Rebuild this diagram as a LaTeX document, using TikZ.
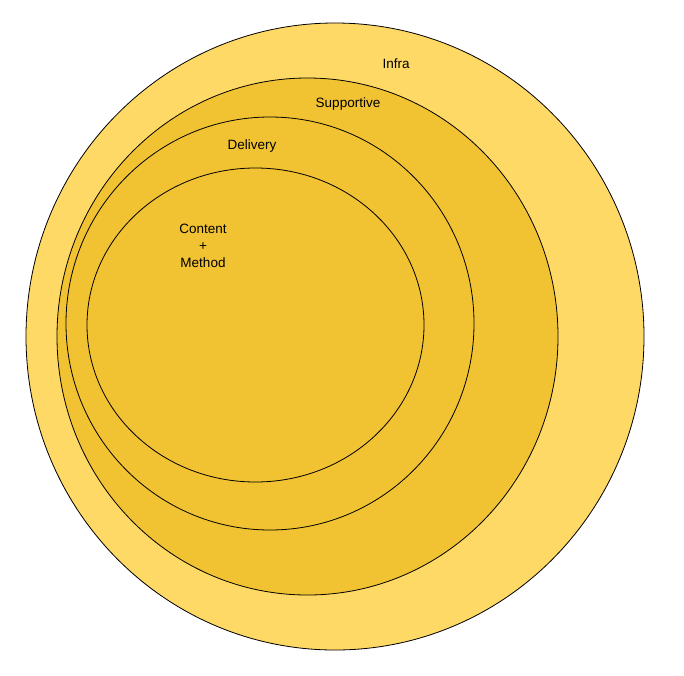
\documentclass[tikz,border=0pt]{standalone}
\usepackage{fontspec}
\setmainfont{Liberation Sans}
\begin{document}
\begin{tikzpicture}[x=1pt,y=-1pt,
  ring/.style={draw=black,line width=0.8pt},
  lbl/.style={font=\fontsize{13.5}{17}\selectfont,align=center}]
\useasboundingbox (0,0) rectangle (684,675);
\fill[white] (0,0) rectangle (684,675);
\draw[ring,fill={rgb,255:red,255;green,217;blue,102}] (335,336.5) ellipse [x radius=309,y radius=313.5];
\draw[ring,fill={rgb,255:red,241;green,194;blue,50}] (307.5,336.5) ellipse [x radius=250.5,y radius=258.5];
\draw[ring,fill={rgb,255:red,241;green,194;blue,50}] (270,323.5) ellipse [x radius=204,y radius=206.5];
\draw[ring,fill={rgb,255:red,241;green,194;blue,50}] (255.5,325) ellipse [x radius=168.5,y radius=157];
\node[lbl] (infra) at (396,64) {Infra};
\node[lbl] (sup) at (348,104) {Supportive};
\node[lbl] (del) at (252,146) {Delivery};
\node[lbl] (con) at (203,246) {Content\\+\\Method};
\end{tikzpicture}
\end{document}
